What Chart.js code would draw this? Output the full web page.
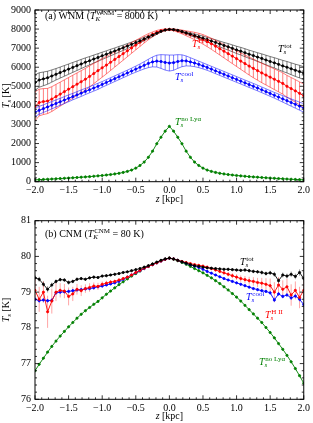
<!DOCTYPE html>
<html>
<head>
<meta charset="utf-8">
<script src="https://cdn.jsdelivr.net/npm/chart.js@4.4.1/dist/chart.umd.min.js"></script>
<style>
  body { margin: 0; background: #fff; }
  canvas { position: absolute; left: 0; }
  #wnm { top: 0; }
  #cnm { top: 210px; }
</style>
</head>
<body>
<canvas id="wnm" width="313" height="210"></canvas>
<canvas id="cnm" width="313" height="213"></canvas>
<script>
const SERIF = '"Liberation Serif", "DejaVu Serif", serif';

// z grid [kpc]
const zKpc = [
  -2, -1.9375, -1.875, -1.8125, -1.75, -1.6875, -1.625, -1.5625, -1.5, -1.4375, -1.375, -1.3125, -1.25,
  -1.1875, -1.125, -1.0625, -1, -0.9375, -0.875, -0.8125, -0.75, -0.6875, -0.625, -0.5625, -0.5, -0.4375,
  -0.375, -0.3125, -0.25, -0.1875, -0.125, -0.0625, 0, 0.0625, 0.125, 0.1875, 0.25, 0.3125, 0.375,
  0.4375, 0.5, 0.5625, 0.625, 0.6875, 0.75, 0.8125, 0.875, 0.9375, 1, 1.0625, 1.125, 1.1875,
  1.25, 1.3125, 1.375, 1.4375, 1.5, 1.5625, 1.625, 1.6875, 1.75, 1.8125, 1.875, 1.9375, 2
];

// (a) WNM, spin temperature [K]
const wnmTot = [
  5200, 5330, 5390, 5450, 5540, 5630, 5720, 5810, 5900, 5990, 6080, 6170, 6260,
  6340, 6430, 6510, 6600, 6680, 6770, 6850, 6940, 7020, 7110, 7200, 7290, 7380,
  7480, 7580, 7680, 7780, 7880, 7950, 7980, 7970, 7930, 7870, 7800, 7730, 7660,
  7590, 7520, 7450, 7370, 7300, 7220, 7140, 7070, 6990, 6910, 6840, 6760, 6680,
  6610, 6530, 6460, 6380, 6300, 6230, 6150, 6070, 6000, 5920, 5840, 5770, 5690
];
const wnmTotErr = [
  400, 380, 360, 340, 320, 300, 290, 280, 270, 260, 250, 240, 230,
  220, 210, 200, 190, 180, 170, 160, 150, 140, 130, 120, 110, 100,
  90, 80, 70, 55, 40, 30, 20, 30, 40, 55, 70, 80, 90,
  100, 110, 120, 130, 140, 150, 160, 170, 180, 190, 200, 210, 215,
  220, 230, 240, 250, 260, 270, 280, 290, 300, 310, 320, 330, 340
];
const wnmHII = [
  3950, 4150, 4200, 4230, 4330, 4460, 4590, 4720, 4850, 4980, 5110, 5240, 5370,
  5520, 5670, 5820, 5970, 6110, 6260, 6410, 6560, 6710, 6860, 7010, 7160, 7310,
  7460, 7600, 7720, 7830, 7910, 7960, 7980, 7960, 7910, 7850, 7780, 7710, 7640,
  7560, 7460, 7350, 7230, 7100, 6970, 6840, 6710, 6580, 6450, 6320, 6190, 6060,
  5940, 5820, 5700, 5590, 5480, 5370, 5260, 5150, 5000, 4880, 4760, 4630, 4500
];
const wnmHIIErr = [
  760, 700, 680, 660, 650, 640, 630, 620, 610, 600, 590, 580, 570,
  550, 530, 510, 490, 460, 430, 400, 370, 340, 310, 280, 250, 220,
  190, 160, 130, 100, 70, 40, 20, 40, 70, 100, 130, 160, 190,
  220, 250, 270, 290, 310, 330, 350, 370, 390, 410, 430, 450, 470,
  490, 500, 510, 520, 530, 540, 550, 560, 570, 580, 590, 600, 620
];
const wnmCool = [
  3650, 3740, 3830, 3920, 4010, 4100, 4190, 4280, 4370, 4460, 4550, 4640, 4730,
  4820, 4910, 5000, 5100, 5200, 5300, 5400, 5500, 5600, 5700, 5800, 5900, 6000,
  6100, 6200, 6280, 6320, 6300, 6250, 6220, 6240, 6300, 6340, 6330, 6280, 6220,
  6150, 6070, 5990, 5900, 5810, 5720, 5630, 5540, 5450, 5360, 5270, 5180, 5090,
  5000, 4910, 4815, 4720, 4625, 4530, 4435, 4340, 4245, 4150, 4055, 3960, 3865
];
const wnmCoolErr = [
  220, 210, 200, 200, 190, 190, 180, 180, 180, 170, 170, 170, 160,
  160, 160, 160, 150, 150, 150, 150, 150, 150, 150, 150, 160, 170,
  190, 220, 260, 310, 360, 400, 420, 400, 360, 310, 260, 220, 190,
  170, 160, 150, 150, 150, 150, 150, 150, 150, 150, 150, 150, 150,
  150, 150, 150, 150, 150, 150, 160, 170, 180, 190, 200, 210, 220
];
const wnmNoLya = [
  95, 106, 117, 128, 140, 152, 165, 178, 190, 205, 220, 235, 250,
  265, 285, 305, 325, 350, 375, 405, 440, 485, 540, 610, 710, 850,
  1030, 1280, 1600, 1990, 2330, 2650, 2900, 2650, 2330, 1990, 1600, 1280, 1030,
  850, 710, 610, 540, 485, 440, 405, 375, 350, 325, 305, 285, 265,
  250, 235, 220, 205, 190, 178, 165, 152, 140, 128, 117, 106, 95
];

// (b) CNM, spin temperature [K]
const cnmTot = [
  79.40, 79.36, 79.22, 79.08, 79.20, 79.30, 79.35, 79.34, 79.27, 79.30, 79.36, 79.38, 79.36,
  79.40, 79.42, 79.41, 79.45, 79.46, 79.48, 79.50, 79.52, 79.55, 79.57, 79.60, 79.63, 79.66,
  79.70, 79.74, 79.79, 79.84, 79.89, 79.93, 79.95, 79.93, 79.89, 79.85, 79.81, 79.77, 79.74,
  79.72, 79.70, 79.68, 79.67, 79.66, 79.65, 79.64, 79.64, 79.63, 79.62, 79.61, 79.62, 79.60,
  79.58, 79.57, 79.55, 79.52, 79.54, 79.50, 79.32, 79.48, 79.45, 79.50, 79.44, 79.55, 79.38
];
const cnmTotErr = [
  0.08, 0.07, 0.08, 0.09, 0.07, 0.06, 0.05, 0.05, 0.06, 0.05, 0.05, 0.04, 0.04,
  0.04, 0.04, 0.04, 0.03, 0.03, 0.03, 0.03, 0.03, 0.02, 0.02, 0.02, 0.02, 0.02,
  0.02, 0.01, 0.01, 0.01, 0.01, 0.01, 0.01, 0.01, 0.01, 0.01, 0.01, 0.02, 0.02,
  0.02, 0.02, 0.02, 0.02, 0.03, 0.03, 0.03, 0.03, 0.03, 0.04, 0.04, 0.05, 0.05,
  0.05, 0.05, 0.06, 0.06, 0.06, 0.07, 0.08, 0.07, 0.07, 0.08, 0.08, 0.09, 0.08
];
const cnmHII = [
  79.05, 78.80, 79.00, 78.45, 78.75, 79.00, 79.05, 79.03, 78.88, 78.95, 79.08, 79.04, 79.10,
  79.13, 79.17, 79.16, 79.22, 79.25, 79.28, 79.30, 79.34, 79.38, 79.42, 79.48, 79.55, 79.61,
  79.67, 79.72, 79.77, 79.82, 79.87, 79.92, 79.95, 79.93, 79.89, 79.86, 79.83, 79.80, 79.77,
  79.75, 79.73, 79.70, 79.66, 79.62, 79.58, 79.54, 79.50, 79.46, 79.42, 79.38, 79.35, 79.32,
  79.30, 79.27, 79.25, 79.22, 79.18, 79.00, 79.20, 79.08, 79.15, 78.92, 79.05, 78.85, 79.05
];
const cnmHIIErr = [
  0.30, 0.35, 0.30, 0.45, 0.35, 0.25, 0.20, 0.20, 0.25, 0.20, 0.15, 0.15, 0.12,
  0.12, 0.10, 0.10, 0.08, 0.07, 0.06, 0.05, 0.05, 0.04, 0.04, 0.03, 0.03, 0.03,
  0.02, 0.02, 0.02, 0.01, 0.01, 0.01, 0.01, 0.01, 0.01, 0.01, 0.02, 0.02, 0.02,
  0.03, 0.03, 0.03, 0.04, 0.04, 0.05, 0.05, 0.06, 0.07, 0.08, 0.09, 0.10, 0.11,
  0.12, 0.13, 0.15, 0.17, 0.20, 0.28, 0.22, 0.25, 0.22, 0.30, 0.25, 0.30, 0.25
];
const cnmCool = [
  78.80, 78.76, 78.78, 78.76, 78.77, 78.98, 79.00, 79.01, 79.02, 79.04, 79.06, 79.07, 79.09,
  79.10, 79.12, 79.15, 79.17, 79.20, 79.23, 79.26, 79.30, 79.36, 79.42, 79.48, 79.54, 79.60,
  79.66, 79.72, 79.77, 79.82, 79.87, 79.92, 79.95, 79.93, 79.89, 79.85, 79.81, 79.77, 79.73,
  79.69, 79.64, 79.58, 79.53, 79.48, 79.43, 79.38, 79.34, 79.30, 79.26, 79.22, 79.18, 79.14,
  79.10, 79.07, 79.04, 79.02, 78.98, 78.78, 78.95, 78.88, 78.92, 78.84, 78.89, 78.80, 78.65
];
const cnmCoolErr = [
  0.05, 0.05, 0.05, 0.05, 0.05, 0.04, 0.04, 0.04, 0.04, 0.04, 0.03, 0.03, 0.03,
  0.03, 0.03, 0.03, 0.02, 0.02, 0.02, 0.02, 0.02, 0.02, 0.02, 0.02, 0.01, 0.01,
  0.01, 0.01, 0.01, 0.01, 0.01, 0.01, 0.01, 0.01, 0.01, 0.01, 0.01, 0.01, 0.01,
  0.01, 0.02, 0.02, 0.02, 0.02, 0.02, 0.02, 0.02, 0.03, 0.03, 0.03, 0.03, 0.03,
  0.03, 0.04, 0.04, 0.04, 0.04, 0.06, 0.05, 0.05, 0.05, 0.06, 0.05, 0.06, 0.06
];
const cnmNoLya = [
  76.80, 76.98, 77.15, 77.32, 77.48, 77.63, 77.77, 77.90, 78.03, 78.15, 78.27, 78.38, 78.48,
  78.57, 78.66, 78.74, 78.84, 78.94, 79.03, 79.12, 79.21, 79.29, 79.37, 79.45, 79.52, 79.59,
  79.66, 79.72, 79.78, 79.83, 79.88, 79.92, 79.96, 79.92, 79.88, 79.83, 79.78, 79.72, 79.66,
  79.60, 79.54, 79.47, 79.40, 79.32, 79.24, 79.15, 79.06, 78.96, 78.86, 78.75, 78.63, 78.51,
  78.39, 78.27, 78.15, 78.01, 77.87, 77.72, 77.56, 77.40, 77.23, 77.05, 76.86, 76.66, 76.45
];

const BLACK = '#000000';
const RED = '#ff0000';
const BLUE = '#0000ff';
const GREEN = '#008000';

// draw (or just measure) a run of text with optional sub/superscripts
function rich(ctx, x, y, tokens, size, color, dry) {
  ctx.fillStyle = color;
  ctx.textAlign = 'left';
  ctx.textBaseline = 'alphabetic';
  const small = size * 0.7;
  for (const tk of tokens) {
    ctx.font = (tk.it ? 'italic ' : '') + size + 'px ' + SERIF;
    if (!dry) ctx.fillText(tk.t, x, y);
    x += ctx.measureText(tk.t).width;
    let w = 0;
    if (tk.sub) {
      ctx.font = 'italic ' + small + 'px ' + SERIF;
      if (!dry) ctx.fillText(tk.sub, x, y + size * 0.22);
      w = ctx.measureText(tk.sub).width;
    }
    if (tk.sup) {
      ctx.font = small + 'px ' + SERIF;
      if (!dry) ctx.fillText(tk.sup, x + 0.8, y - size * 0.42);
      w = Math.max(w, ctx.measureText(tk.sup).width + 0.8);
    }
    x += w;
  }
  return x;
}

const errorBars = {
  id: 'errorBars',
  beforeDatasetsDraw(chart) {
    const { ctx, chartArea: a, scales: { x, y } } = chart;
    ctx.save();
    ctx.beginPath();
    ctx.rect(a.left, a.top, a.right - a.left, a.bottom - a.top);
    ctx.clip();
    ctx.lineWidth = 0.6;
    chart.data.datasets.forEach(ds => {
      if (!ds.err) return;
      ctx.strokeStyle = ds.borderColor;
      ctx.globalAlpha = ds.band ? 0.85 : 0.6;
      const up = [], lo = [];
      ds.data.forEach((p, i) => {
        const px = x.getPixelForValue(p.x);
        const y1 = y.getPixelForValue(p.y + ds.err[i]);
        const y2 = y.getPixelForValue(p.y - ds.err[i]);
        up.push([px, y1]); lo.push([px, y2]);
        ctx.beginPath(); ctx.moveTo(px, y1); ctx.lineTo(px, y2); ctx.stroke();
      });
      if (ds.band) {
        [up, lo].forEach(edge => {
          ctx.beginPath();
          edge.forEach((q, i) => i ? ctx.lineTo(q[0], q[1]) : ctx.moveTo(q[0], q[1]));
          ctx.stroke();
        });
      }
    });
    ctx.restore();
  }
};

const frame = {
  id: 'frame',
  afterDraw(chart, args, o) {
    const { ctx, chartArea: a, scales: { x, y } } = chart;
    ctx.save();
    ctx.strokeStyle = '#000';
    ctx.lineWidth = 0.8;
    for (let k = 0; k <= 40; k++) {
      const px = x.getPixelForValue(-2 + k * 0.1);
      const len = k % 5 === 0 ? 4 : 2;
      ctx.beginPath();
      ctx.moveTo(px, a.bottom); ctx.lineTo(px, a.bottom - len);
      ctx.moveTo(px, a.top); ctx.lineTo(px, a.top + len);
      ctx.stroke();
    }
    const n = Math.round((o.yMax - o.yMin) / o.yMinor);
    const per = Math.round(o.yStep / o.yMinor);
    for (let k = 0; k <= n; k++) {
      const py = y.getPixelForValue(o.yMin + k * o.yMinor);
      const len = k % per === 0 ? 4 : 2;
      ctx.beginPath();
      ctx.moveTo(a.left, py); ctx.lineTo(a.left + len, py);
      ctx.moveTo(a.right, py); ctx.lineTo(a.right - len, py);
      ctx.stroke();
    }
    ctx.lineWidth = 1;
    ctx.strokeRect(a.left, a.top, a.right - a.left, a.bottom - a.top);

    // texts
    o.texts.forEach(t => rich(ctx, t.x, t.y, t.tokens, 10, t.color));
    const xt = [{ t: 'z', it: true }, { t: ' [kpc]' }];
    const xw = rich(ctx, 0, 0, xt, 10, BLACK, true);
    rich(ctx, (a.left + a.right) / 2 - xw / 2, o.xTitleY, xt, 10, BLACK);
    const yt = [{ t: 'T', it: true, sub: 's' }, { t: ' [K]' }];
    const yw = rich(ctx, 0, 0, yt, 10, BLACK, true);
    ctx.translate(9, (a.top + a.bottom) / 2);
    ctx.rotate(-Math.PI / 2);
    rich(ctx, -yw / 2, 0, yt, 10, BLACK);
    ctx.restore();
  }
};

function series(vals, err, color, band) {
  return {
    data: zKpc.map((z, i) => ({ x: z, y: vals[i] })),
    err: err, band: band,
    borderColor: color, backgroundColor: color,
    borderWidth: 0.9, pointRadius: 1.1, pointHoverRadius: 0, tension: 0
  };
}

function makeChart(id, datasets, o) {
  return new Chart(document.getElementById(id), {
    type: 'line',
    data: { datasets: datasets },
    plugins: [errorBars, frame],
    options: {
      responsive: false,
      animation: false,
      devicePixelRatio: 1,
      layout: { autoPadding: false, padding: { left: 0, right: 6.5, top: o.padTop, bottom: 0 } },
      plugins: { legend: { display: false }, tooltip: { enabled: false }, frame: o },
      scales: {
        x: {
          type: 'linear', min: -2, max: 2,
          grid: { display: false, drawTicks: false }, border: { display: false },
          ticks: {
            stepSize: 0.5, autoSkip: false, maxRotation: 0, padding: 3,
            color: '#000', font: { family: SERIF, size: 10 },
            callback: v => Number(v).toFixed(1).replace('-', '\u2212')
          },
          afterFit(s) { s.height = o.xAxisH; }
        },
        y: {
          min: o.yMin, max: o.yMax,
          grid: { display: false, drawTicks: false }, border: { display: false },
          ticks: {
            stepSize: o.yStep, autoSkip: false, padding: 4,
            color: '#000', font: { family: SERIF, size: 10 },
            callback: v => String(v)
          },
          afterFit(s) { s.width = 35; }
        }
      }
    }
  });
}

const T = sup => [{ t: 'T', it: true, sub: 's', sup: sup }];

makeChart('wnm', [
  series(wnmTot, wnmTotErr, BLACK, true),
  series(wnmHII, wnmHIIErr, RED, true),
  series(wnmCool, wnmCoolErr, BLUE, true),
  series(wnmNoLya, null, GREEN, false)
], {
  yMin: 0, yMax: 9000, yStep: 1000, yMinor: 200,
  padTop: 4, xAxisH: 28.3, xTitleY: 202,
  texts: [
    { x: 45, y: 19, color: BLACK, tokens: [{ t: '(a) WNM (' }, { t: 'T', it: true, sub: 'K', sup: 'WNM' }, { t: ' = 8000 K)' }] },
    { x: 278, y: 52, color: BLACK, tokens: T('tot') },
    { x: 192, y: 47, color: RED, tokens: T('H II') },
    { x: 175, y: 80, color: BLUE, tokens: T('cool') },
    { x: 175, y: 125, color: GREEN, tokens: T('no Ly\u03b1') }
  ]
});

makeChart('cnm', [
  series(cnmTot, cnmTotErr, BLACK, false),
  series(cnmHII, cnmHIIErr, RED, false),
  series(cnmCool, cnmCoolErr, BLUE, false),
  series(cnmNoLya, null, GREEN, false)
], {
  yMin: 76, yMax: 81, yStep: 1, yMinor: 0.2,
  padTop: 10.7, xAxisH: 23.7, xTitleY: 209,
  texts: [
    { x: 45, y: 27, color: BLACK, tokens: [{ t: '(b) CNM (' }, { t: 'T', it: true, sub: 'K', sup: 'CNM' }, { t: ' = 80 K)' }] },
    { x: 240, y: 55, color: BLACK, tokens: T('tot') },
    { x: 246, y: 90, color: BLUE, tokens: T('cool') },
    { x: 265, y: 108, color: RED, tokens: T('H II') },
    { x: 259, y: 155, color: GREEN, tokens: T('no Ly\u03b1') }
  ]
});
</script>
</body>
</html>
